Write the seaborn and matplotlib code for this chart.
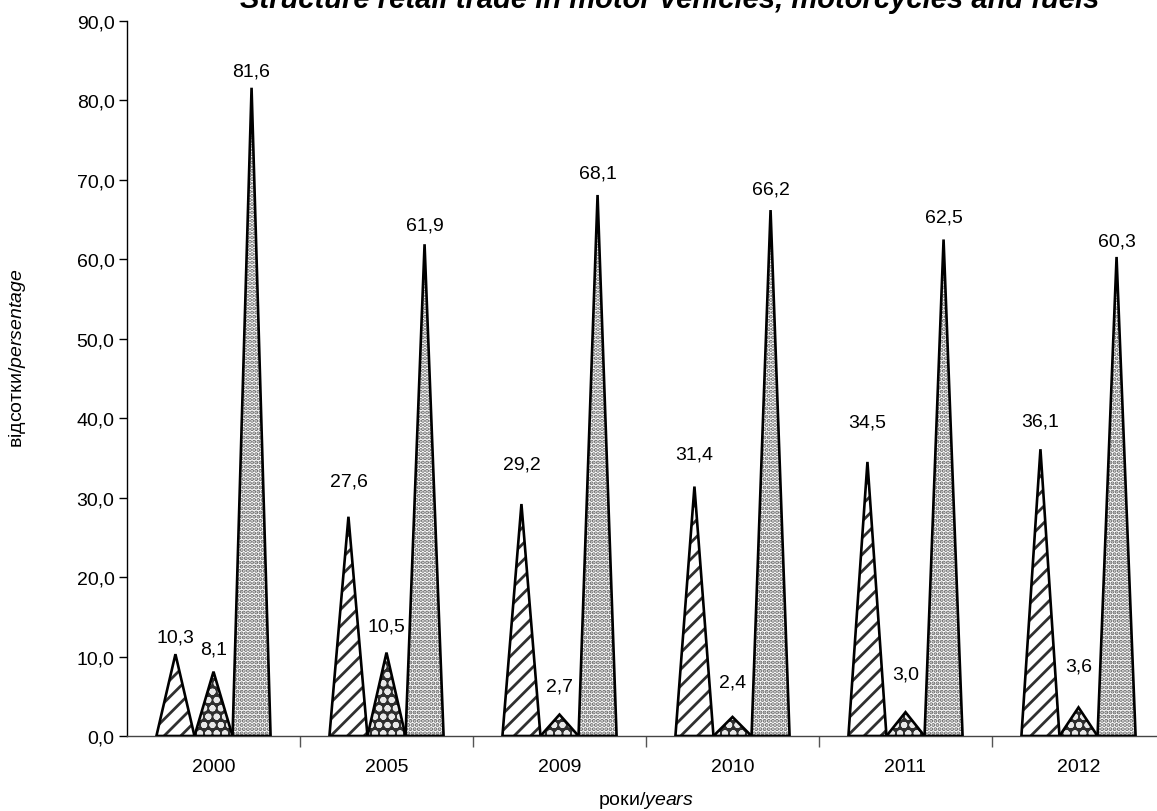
import pandas as pd
import matplotlib.pyplot as plt
import seaborn as sns
from matplotlib.patches import Polygon

# data
years = ["2000", "2005", "2009", "2010", "2011", "2012"]
series_names = ["motor vehicles", "motorcycles", "fuels"]
vehicles = [10.3, 27.6, 29.2, 31.4, 34.5, 36.1]
motorcycles = [8.1, 10.5, 2.7, 2.4, 3.0, 3.6]
fuels = [81.6, 61.9, 68.1, 66.2, 62.5, 60.3]

# label offsets above the peaks (pixels), per series
label_offsets = [
    [17, 36, 40, 33, 40, 28],
    [23, 27, 29, 35, 38, 41],
    [17, 19, 22, 21, 22, 16],
]

# fill styles: (facecolor, hatch, hatch colour)
styles = [
    ("white", "//", "#303030"),
    ("#2e2e2e", "oo", "#e8e8e8"),
    ("white", "....", "#666666"),
]

df = pd.DataFrame({
    "year": years * 3,
    "series": [s for s in series_names for _ in years],
    "value": vehicles + motorcycles + fuels,
})

sns.set_style("ticks")
plt.rcParams["font.family"] = ["Liberation Sans", "DejaVu Sans"]
plt.rcParams["mathtext.fontset"] = "custom"
plt.rcParams["mathtext.it"] = "Liberation Sans:italic"
plt.rcParams["mathtext.rm"] = "Liberation Sans"
plt.rcParams["hatch.linewidth"] = 2.0
plt.rcParams["text.color"] = "black"
plt.rcParams["xtick.color"] = "black"
plt.rcParams["ytick.color"] = "black"
plt.rcParams["axes.labelcolor"] = "black"

fs = 14

fig = plt.figure(figsize=(11.57, 8.12), dpi=100)
ax = fig.add_axes([127 / 1157, 1 - 737 / 812, 1038 / 1157, 715 / 812])

sns.barplot(
    data=df,
    x="year",
    y="value",
    hue="series",
    hue_order=series_names,
    order=years,
    width=0.66,
    errorbar=None,
    legend=False,
    ax=ax,
)

# turn each seaborn bar into a triangle with the same base and height
for i, container in enumerate(ax.containers):
    face, hatch, hcol = styles[i]
    for j, bar in enumerate(container):
        x0 = bar.get_x()
        w = bar.get_width()
        h = bar.get_height()
        pts = [(x0, 0), (x0 + w / 2, h), (x0 + w, 0)]
        fill = Polygon(pts, closed=True, facecolor=face, edgecolor=hcol,
                       hatch=hatch, linewidth=0, zorder=3)
        if hasattr(fill, "set_hatchcolor"):
            fill.set_hatchcolor(hcol)
        ax.add_patch(fill)
        ax.add_patch(Polygon(pts, closed=True, fill=False, edgecolor="black",
                             linewidth=1.9, joinstyle="miter", zorder=4))
        ax.annotate(
            f"{h:.1f}".replace(".", ","),
            xy=(x0 + w / 2, h),
            xytext=(0, label_offsets[i][j]),
            textcoords="offset pixels",
            ha="center", va="center", fontsize=fs, zorder=5,
        )
        bar.set_visible(False)

ax.set_ylim(0, 90)
ax.set_xlim(-0.5, len(years) - 0.5)
ax.set_yticks(range(0, 91, 10))
ax.set_yticklabels([f"{v:.1f}".replace(".", ",") for v in range(0, 91, 10)])
ax.set_xticks(range(len(years)))
ax.set_xticklabels(years)
ax.tick_params(axis="x", which="major", length=0, pad=16, labelsize=fs)
ax.set_xticks([k + 0.5 for k in range(len(years) - 1)], minor=True)
ax.tick_params(axis="x", which="minor", length=8, width=1, color="#555555")
ax.tick_params(axis="y", length=6, width=1, labelsize=fs, pad=3)

sns.despine(ax=ax)
ax.spines["left"].set_linewidth(1)
ax.spines["left"].set_color("black")
ax.spines["bottom"].set_linewidth(1)
ax.spines["bottom"].set_color("#444444")

ax.set_xlabel("роки/$\\it{years}$", fontsize=fs, labelpad=10)
ax.set_ylabel("відсотки/$\\it{persentage}$", fontsize=fs)
ax.yaxis.set_label_coords(-0.095, 0.53)

fig.text(670 / 1157, 1 - 8 / 812,
         "Structure retail trade in motor vehicles, motorcycles and fuels",
         ha="center", va="baseline", fontsize=21, fontweight="bold",
         fontstyle="italic")

fig.savefig("out.png", dpi=100)
